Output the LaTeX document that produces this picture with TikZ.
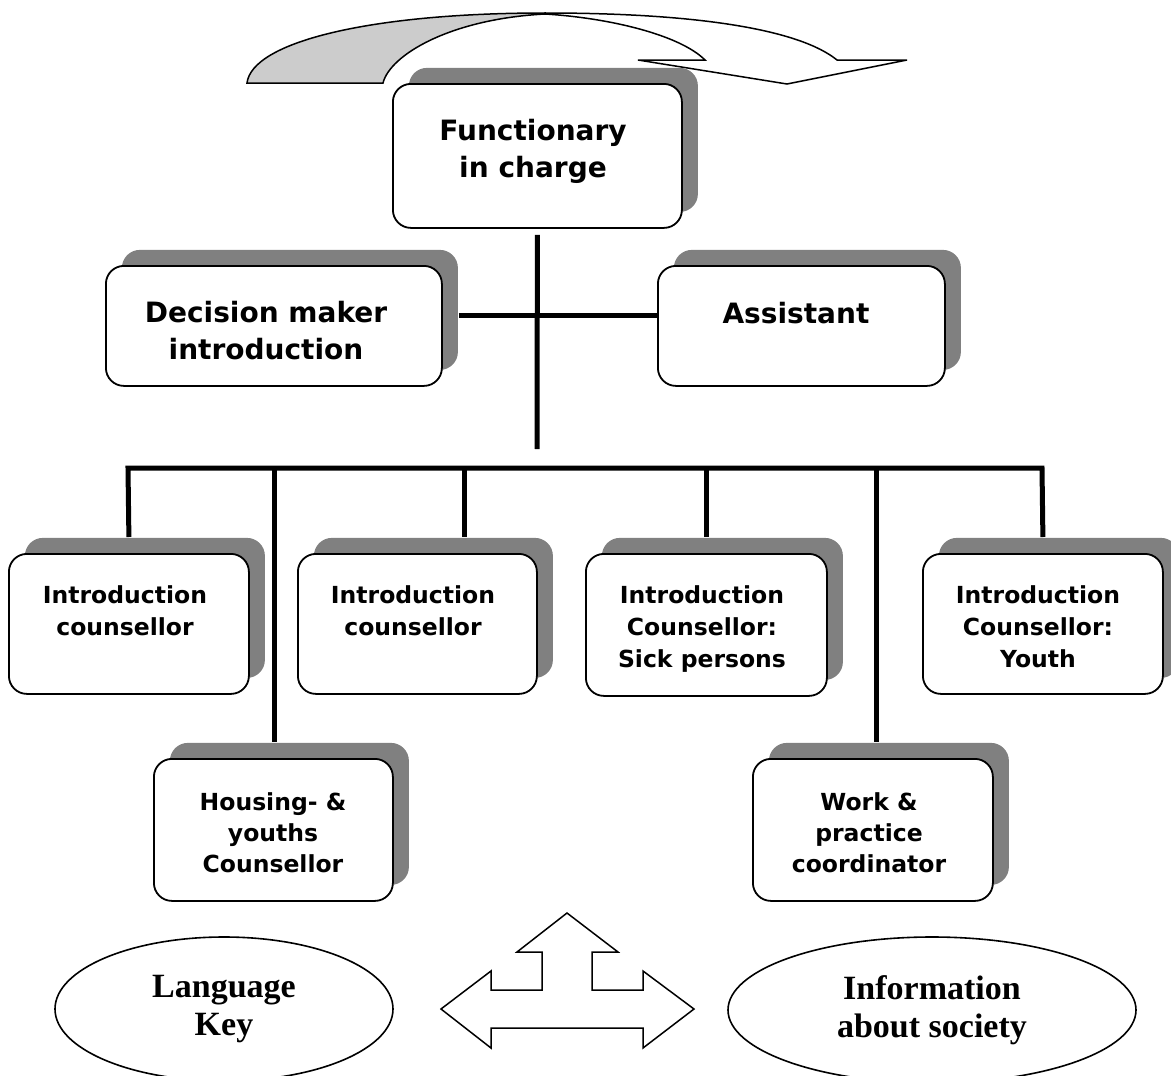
\documentclass[tikz,border=0pt]{standalone}
\usepackage{fontspec}
\setmainfont{DejaVu Sans}
\newfontfamily\serifb{Liberation Serif}
\usetikzlibrary{shadows,shapes.geometric}
\definecolor{shadowgray}{HTML}{808080}
\definecolor{ribgray}{HTML}{CCCCCC}
\tikzset{
  sbox/.style={draw, line width=1.8pt, fill=white, rounded corners=18pt,
    inner sep=0pt, anchor=north west,
    drop shadow={shadow xshift=16pt, shadow yshift=16pt, fill=shadowgray, opacity=1}},
  bigtxt/.style={anchor=base, align=center, inner sep=0pt,
    font=\bfseries\fontsize{28}{36.5}\selectfont},
  smalltxt/.style={anchor=base, align=center, inner sep=0pt,
    font=\bfseries\fontsize{23.5}{32}\selectfont},
  conn/.style={line width=5pt, line cap=butt, line join=miter},
  ell/.style={ellipse, draw, line width=1.6pt, inner sep=0pt, align=center,
    font=\serifb\bfseries\fontsize{34}{38}\selectfont},
  outline/.style={draw, line width=1.5pt, line join=miter}
}
\begin{document}
\begin{tikzpicture}[x=1pt,y=-1pt]
\clip (0,0) rectangle (1171,1076);
\fill[white] (0,0) rectangle (1171,1076);

% curved arrow at top
\path[outline, fill=ribgray] (247,83) .. controls (252,42) and (370,13) .. (545,13)
  -- (545,14) .. controls (450,19) and (390,55) .. (383,83) -- cycle;
\path[outline, fill=white] (545,13) .. controls (700,13) and (800,30) .. (837,60)
  -- (907,60) -- (787,84) -- (638,60) -- (705,60)
  .. controls (680,35) and (610,18) .. (545,14) -- cycle;

% boxes
\node[sbox, minimum width=289pt, minimum height=144pt] (F) at (392,83) {};
\node[sbox, minimum width=336pt, minimum height=120pt] (D) at (105,265) {};
\node[sbox, minimum width=287pt, minimum height=120pt] (A) at (657,265) {};
\node[sbox, minimum width=240pt, minimum height=140pt] (R1) at (8,553) {};
\node[sbox, minimum width=239pt, minimum height=140pt] (R2) at (297,553) {};
\node[sbox, minimum width=241pt, minimum height=142pt] (R3) at (585,553) {};
\node[sbox, minimum width=240pt, minimum height=140pt] (R4) at (922,553) {};
\node[sbox, minimum width=239pt, minimum height=142pt] (H) at (153,758) {};
\node[sbox, minimum width=240pt, minimum height=142pt] (W) at (752,758) {};

% texts (anchor = baseline of the last line)
\node[bigtxt] (Ft) at (533,177) {Functionary\\in charge};
\node[bigtxt] (Dt) at (266,359) {Decision maker\\introduction};
\node[bigtxt] (At) at (796,323) {Assistant};
\node[smalltxt] (R1t) at (125,635) {Introduction\\counsellor};
\node[smalltxt] (R2t) at (413,635) {Introduction\\counsellor};
\node[smalltxt] (R3t) at (702,667) {Introduction\\Counsellor:\\Sick persons};
\node[smalltxt] (R4t) at (1038,667) {Introduction\\Counsellor:\\Youth};
\node[smalltxt, font=\bfseries\fontsize{23.5}{31}\selectfont] (Ht) at (273,872) {Housing- \&\\youths\\Counsellor};
\node[smalltxt, font=\bfseries\fontsize{23.5}{31}\selectfont] (Wt) at (869,872) {Work \&\\practice\\coordinator};

% connectors
\coordinate (hub) at (537,449);
\coordinate (cross) at (537,315);
\draw[conn] ([yshift=-6pt]F.south) -- (hub);
\draw[conn] ([xshift=16pt]D.east |- cross) -- (A.west |- cross);
\coordinate (busL) at (128,468);
\coordinate (busR) at (1042,468);
\draw[conn] ([yshift=16pt]R1.north) -- (busL) -- (busR) -- ([yshift=16pt]R4.north);
\draw[conn] (R3.north |- busL) -- ([yshift=16pt]R3.north);
\draw[conn] ([xshift=47.5pt]R2.north |- busL) -- ([xshift=47.5pt,yshift=16pt]R2.north);
\draw[conn] ([xshift=1.5pt]H.north |- busL) -- ([xshift=1.5pt,yshift=16pt]H.north);
\draw[conn] ([xshift=4pt]W.north |- busL) -- ([xshift=4pt,yshift=16pt]W.north);

% three-way arrow
\path[outline, fill=white] (441,1009) -- (491,971) -- (491,990) -- (542,990) -- (542,952)
  -- (517,952) -- (567,913) -- (618,952) -- (592,952) -- (592,990) -- (643,990)
  -- (643,971) -- (694,1009) -- (643,1048) -- (643,1028) -- (491,1028) -- (491,1048) -- cycle;

% ellipses
\node[ell, minimum width=338pt, minimum height=144pt] (lang) at (224,1009) {Language\\Key};
\node[ell, minimum width=408pt, minimum height=146pt] (info) at (932,1010) {Information\\about society};
\end{tikzpicture}
\end{document}
